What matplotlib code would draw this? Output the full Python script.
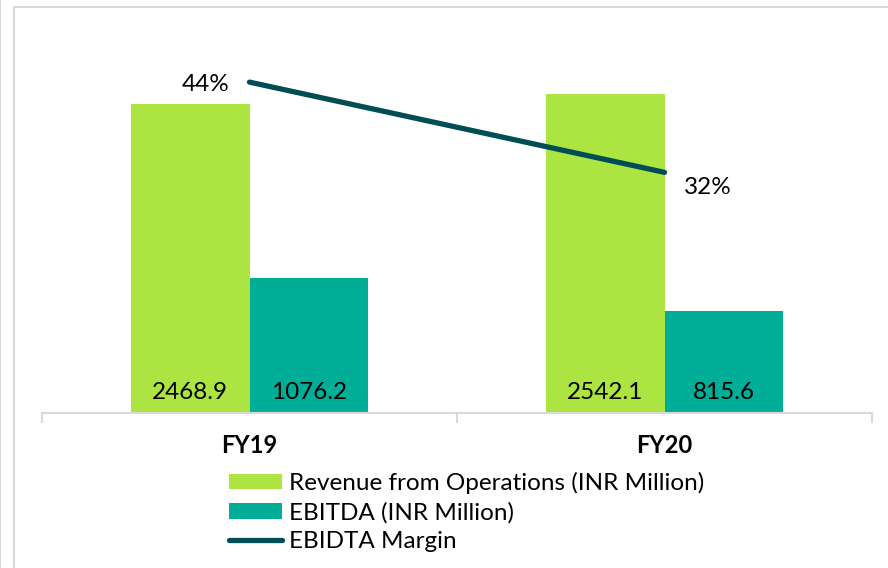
import matplotlib
matplotlib.use("Agg")
import matplotlib.pyplot as plt
from matplotlib.patches import Rectangle, Patch
from matplotlib.lines import Line2D

categories = ["FY19", "FY20"]
revenue = [2468.9, 2542.1]
ebitda = [1076.2, 815.6]
margin = [44, 32]
series_names = ["Revenue from Operations (INR Million)", "EBITDA (INR Million)", "EBIDTA Margin"]

C_REV = "#ace442"
C_EB = "#00ae98"
C_LINE = "#004d55"
GRID = "#d9d9d9"

plt.rcParams['font.family'] = ['Lato', 'DejaVu Sans']

W, H = 888, 568
fig = plt.figure(figsize=(W / 100, H / 100), dpi=100)

# outer border
fig.patches.append(Rectangle((14 / W, -0.1), 1.2, 1 - 7 / H + 0.1, transform=fig.transFigure,
                             fill=False, edgecolor=GRID, linewidth=1.5))
fig.patches.append(Rectangle((0, -0.1), 1 / W, 1.2, transform=fig.transFigure,
                             facecolor=GRID, edgecolor='none'))

left, right = 42 / W, 872 / W
bottom = 1 - 413 / H
top = 1 - 37 / H
ax = fig.add_axes([left, bottom, right - left, top - bottom])
ax2 = ax.twinx()

x = list(range(len(categories)))
bw = 0.285
ax.bar([i - bw / 2 for i in x], revenue, width=bw, color=C_REV, zorder=2)
ax.bar([i + bw / 2 for i in x], ebitda, width=bw, color=C_EB, zorder=2)

for i in x:
    ax.text(i - bw / 2, 165, f"{revenue[i]:.1f}", ha='center', va='center', fontsize=17.5, color='black')
    ax.text(i + bw / 2, 165, f"{ebitda[i]:.1f}", ha='center', va='center', fontsize=17.5, color='black')

ax.set_xlim(-0.5, 1.5)
ax.set_ylim(0, 3000)
ax2.set_ylim(0, 50)

ax2.plot(x, margin, color=C_LINE, linewidth=3.8, solid_capstyle='round', zorder=3)
ax2.text(0 - 0.106, margin[0] - 0.3, f"{margin[0]}%", ha='center', va='center', fontsize=17.5)
ax2.text(1 + 0.105, margin[1] - 2.0, f"{margin[1]}%", ha='center', va='center', fontsize=17.5)

for a in (ax, ax2):
    for s in a.spines.values():
        s.set_visible(False)
    a.set_yticks([])
ax.spines['bottom'].set_visible(True)
ax.spines['bottom'].set_color(GRID)
ax.spines['bottom'].set_linewidth(1.5)

ax.set_xticks(x)
ax.set_xticklabels(categories, fontweight='bold', fontsize=17)
ax.tick_params(axis='x', which='major', length=0, pad=15)
ax.set_xticks([-0.5, 0.5, 1.5], minor=True)
ax.tick_params(axis='x', which='minor', length=7, width=1.5, color=GRID, direction='out')

handles = [Patch(facecolor=C_REV, edgecolor='none'),
           Patch(facecolor=C_EB, edgecolor='none'),
           Line2D([0], [0], color=C_LINE, linewidth=3.8, solid_capstyle='round')]
leg = fig.legend(handles, series_names, loc='upper left', bbox_to_anchor=(229 / W, 1 - 472 / H),
                 frameon=False, fontsize=17.5, handlelength=2.2, handleheight=0.6, handletextpad=0.25,
                 labelspacing=0.32, borderaxespad=0, borderpad=0)

fig.savefig("out.png", dpi=100)
